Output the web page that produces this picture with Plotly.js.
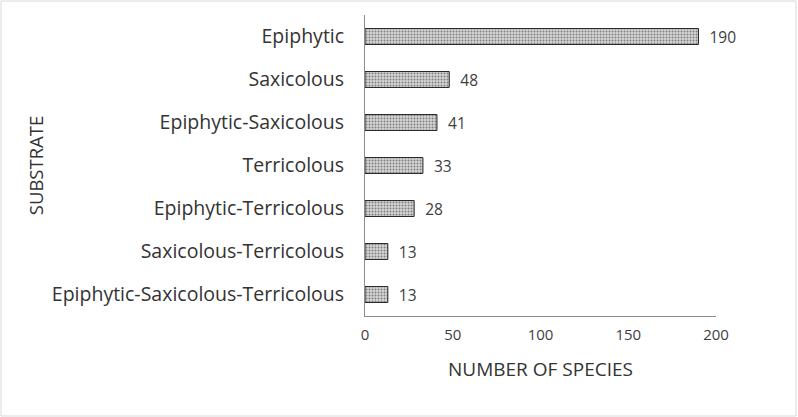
<!DOCTYPE html>
<html><head><meta charset="utf-8">
<script src="https://cdn.plot.ly/plotly-3.0.1.min.js"></script>
<style>html,body{margin:0;padding:0;background:#fff}#chart{width:798px;height:417px}</style>
</head><body><div id="chart"></div>
<script>
const categories = ["Epiphytic","Saxicolous","Epiphytic-Saxicolous","Terricolous","Epiphytic-Terricolous","Saxicolous-Terricolous","Epiphytic-Saxicolous-Terricolous"];
const species = [190,48,41,33,28,13,13];
const xTicks = [0,50,100,150,200];

const font = "Open Sans, Liberation Sans, sans-serif";
const trace = {
  type: "bar", orientation: "h",
  y: categories, x: species,
  text: species.map(v => "\u00a0\u00a0" + v), textposition: "outside",
  constraintext: "none",
  textfont: {family: font, size: 15.5, color: "#404040"},
  cliponaxis: false,
  width: 0.37,
  marker: {color: "#bdbdbd", line: {color: "#222", width: 1},
    pattern: {shape: ".", fgcolor: "#808080", bgcolor: "#d6d6d6", size: 3, solidity: 0.35}},
  hoverinfo: "none"
};
const layout = {
  width: 798, height: 417,
  margin: {l: 365, r: 82, t: 15, b: 101},
  paper_bgcolor: "#fff", plot_bgcolor: "#fff",
  showlegend: false,
  xaxis: {range: [0, 200], tickvals: xTicks, ticktext: xTicks.map(String),
    showgrid: false, zeroline: false, showline: true, linecolor: "#8c8c8c", linewidth: 1,
    ticks: "outside", ticklen: 5, tickcolor: "rgba(0,0,0,0)",
    tickfont: {family: font, size: 15, color: "#404040"},
    title: {text: "NUMBER OF SPECIES", font: {family: font, size: 19, color: "#333"}, standoff: 19}},
  yaxis: {categoryorder: "array", categoryarray: categories, autorange: "reversed",
    showgrid: false, zeroline: false, showline: true, linecolor: "#8c8c8c", linewidth: 1,
    ticks: "outside", ticklen: 16, tickcolor: "rgba(0,0,0,0)",
    tickfont: {family: font, size: 19.5, color: "#333"},
    title: {text: "SUBSTRATE", font: {family: font, size: 18.5, color: "#333"}, standoff: 3}},
  shapes: [{type: "rect", xref: "paper", yref: "paper",
    x0: -364/351, x1: 1 + 80/351, y0: -100/301, y1: 1 + 14/301,
    line: {color: "#d9d9d9", width: 1}, fillcolor: "rgba(0,0,0,0)", layer: "below"}]
};
Plotly.newPlot("chart", [trace], layout, {staticPlot: true, displayModeBar: false});
</script></body></html>
